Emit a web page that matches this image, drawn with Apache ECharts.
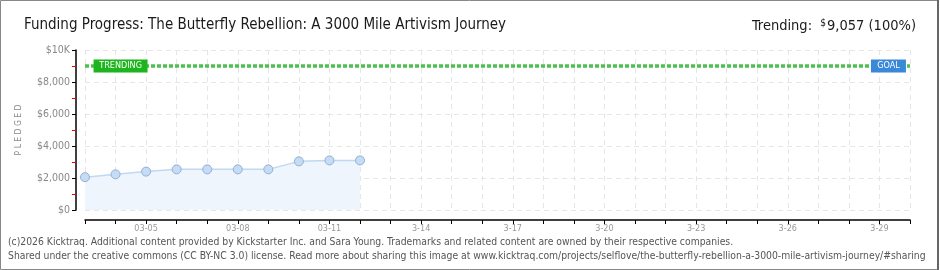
<!DOCTYPE html>
<html><head><meta charset="utf-8">
<script src="https://cdn.jsdelivr.net/npm/echarts@6/dist/echarts.min.js"></script>
<style>html,body{margin:0;padding:0;background:#fff}#c{width:940px;height:270px}</style>
</head><body><div id="c"></div>
<script>
const dates = ['03-03','03-04','03-05','03-06','03-07','03-08','03-09','03-10','03-11','03-12','03-13','03-14','03-15','03-16','03-17','03-18','03-19','03-20','03-21','03-22','03-23','03-24','03-25','03-26','03-27','03-28','03-29','03-30'];
const tickLabels = ['','','03-05','','','03-08','','','03-11','','','3-14','','','3-17','','','3-20','','','3-23','','','3-26','','','3-29',''];
const pledged = [2050,2230,2400,2540,2540,2540,2540,3040,3100,3100];
const goal = 9000;
const yTicks = ['$0','$2,000','$4,000','$6,000','$8,000','$10K'];
const FONT = '"DejaVu Sans Condensed", "DejaVu Sans", sans-serif';

const chart = echarts.init(document.getElementById('c'));
chart.setOption({
  animation:false,
  backgroundColor:'#fff',
  grid:{left:85,right:30,top:50,bottom:60,containLabel:false},
  title:[
    {text:'Funding Progress: The Butterfly Rebellion: A 3000 Mile Artivism Journey',left:19,top:13,
     textStyle:{fontFamily:FONT,fontSize:15,fontWeight:'normal',color:'#1a1a1a'}},
    {text:'{a|Trending:  }{s|$}{a|9,057 (100%)}',right:19,top:13,
     textStyle:{fontWeight:'normal',rich:{a:{fontFamily:FONT,fontSize:14.5,fontWeight:'normal',color:'#1a1a1a'},s:{fontFamily:FONT,fontSize:10,fontWeight:'normal',color:'#1a1a1a',verticalAlign:'top',padding:[0,1,6,0]}}}}
  ],
  xAxis:{type:'category',data:dates,boundaryGap:false,offset:10,
    axisLine:{onZero:false,lineStyle:{color:'#000',width:1.5}},
    axisTick:{show:true,interval:0,length:4,lineStyle:{color:'#000'}},
    axisLabel:{interval:0,formatter:(v,i)=>tickLabels[i],color:'#999',fontFamily:FONT,fontSize:9,margin:4},
    splitLine:{show:true,interval:0,lineStyle:{color:'#e6e6e6',type:[5,4]}}},
  yAxis:{type:'value',min:0,max:10000,interval:2000,offset:9,
    name:'P L E D G E D',nameLocation:'middle',nameGap:53,nameRotate:90,
    nameTextStyle:{color:'#888',fontFamily:FONT,fontSize:8.5},
    axisLine:{show:true,onZero:false,lineStyle:{color:'#000',width:1.5}},
    axisTick:{show:true,length:4,inside:false,lineStyle:{color:'#000'}},
    minorTick:{show:true,splitNumber:2,length:4,lineStyle:{color:'#e00'}},
    axisLabel:{formatter:(v)=>yTicks[Math.round(v/2000)],color:'#888',fontFamily:FONT,fontSize:10.5,margin:6},
    splitLine:{show:true,lineStyle:{color:'#e6e6e6',type:[5,4]}}},
  series:[{
    type:'line',data:pledged,symbol:'circle',symbolSize:9,
    lineStyle:{color:'#c0d8f2',width:1.5},
    itemStyle:{color:'#c4dcf6',borderColor:'#94afd0',borderWidth:1},
    areaStyle:{color:'#eef5fd',opacity:1},
    markLine:{silent:true,symbol:'none',label:{show:false},
      lineStyle:{color:'#3cb83c',width:3.5,type:[4,2],opacity:0.9},
      data:[{yAxis:goal}]},
    markPoint:{silent:true,
      data:[
        {coord:['03-04',goal],symbol:'rect',symbolSize:[54,13],symbolOffset:[5,0],
         itemStyle:{color:'#1db51d'},
         label:{show:true,formatter:'TRENDING',color:'#fff',fontFamily:FONT,fontSize:9}},
        {coord:['03-29',goal],symbol:'rect',symbolSize:[35,13],symbolOffset:[9,0],
         itemStyle:{color:'#3a88d8'},
         label:{show:true,formatter:'GOAL',color:'#fff',fontFamily:FONT,fontSize:9}}
      ]}
  }],
  graphic:[
    {type:'rect',shape:{x:0.5,y:0.5,width:938,height:269},style:{fill:'none',stroke:'#888',lineWidth:1}},
    {type:'line',shape:{x1:938,y1:0,x2:938,y2:270},style:{stroke:'#666',lineWidth:2}},
    {type:'text',left:8,top:237,style:{text:'(c)2026 Kicktraq. Additional content provided by Kickstarter Inc. and Sara Young. Trademarks and related content are owned by their respective companies.',fill:'#555',font:'10.3px "DejaVu Sans Condensed", "DejaVu Sans", sans-serif'}},
    {type:'text',left:8,top:251,style:{text:'Shared under the creative commons (CC BY-NC 3.0) license. Read more about sharing this image at www.kicktraq.com/projects/selflove/the-butterfly-rebellion-a-3000-mile-artivism-journey/#sharing',fill:'#555',font:'10.3px "DejaVu Sans Condensed", "DejaVu Sans", sans-serif'}}
  ]
});
</script></body></html>
